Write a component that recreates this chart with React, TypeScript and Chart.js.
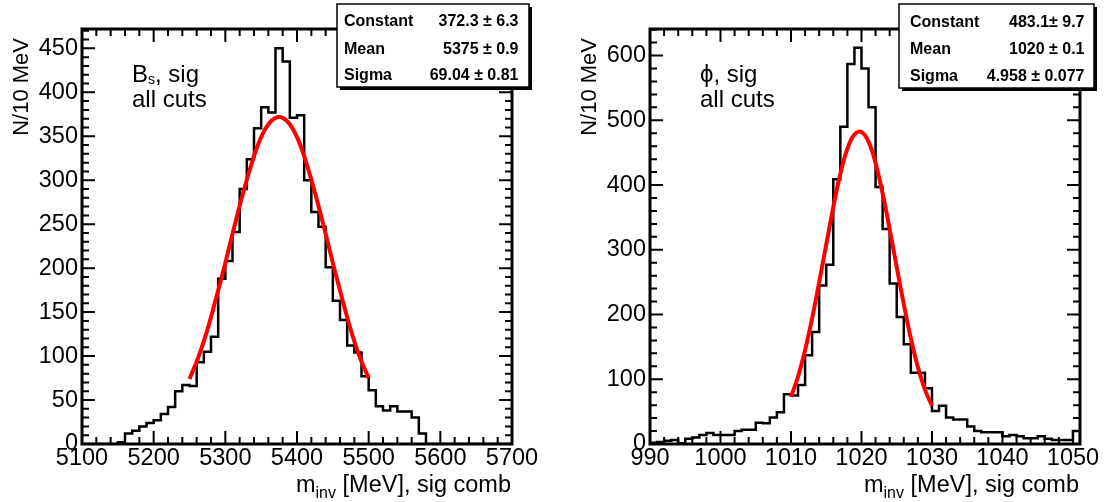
import React, { useEffect, useRef } from "react";
import { Chart, registerables } from "chart.js";

Chart.register(...registerables);

const FONT = '"Liberation Sans", Arial, Helvetica, "DejaVu Sans", sans-serif';

// ---------- B_s panel data ----------
const bsBinLow = 5100;
const bsBinWidth = 10;
const bsCounts = [
  0, 0, 0, 0, 0, 2, 12, 15, 20, 24,
  27, 34, 42, 60, 67, 66, 93, 105, 122, 188,
  208, 241, 290, 324, 359, 383, 377, 450, 435, 371,
  374, 300, 264, 247, 201, 163, 141, 112, 104, 77,
  61, 43, 38, 43, 37, 37, 30, 12, 0, 0,
  0, 0, 0, 0, 0, 0, 0, 0, 0, 0,
];
const bsFitX = [
  5250, 5262.5, 5275, 5287.5, 5300, 5312.5, 5325, 5337.5, 5350, 5362.5, 5375,
  5387.5, 5400, 5412.5, 5425, 5437.5, 5450, 5462.5, 5475, 5487.5, 5500,
];
const bsFitY = [
  74, 99, 130, 167, 206, 247, 286, 321, 349, 366, 372,
  366, 349, 321, 286, 247, 206, 167, 130, 99, 75,
];
const bsXTicks = [5100, 5200, 5300, 5400, 5500, 5600, 5700];
const bsYTicks = [0, 50, 100, 150, 200, 250, 300, 350, 400, 450];
const bsStatLabels = ["Constant", "Mean", "Sigma"];
const bsStatValues = ["372.3 \u00b1 6.3", "5375 \u00b1 0.9", "69.04 \u00b1 0.81"];

// ---------- phi panel data ----------
const phiBinLow = 990;
const phiBinWidth = 1;
const phiCounts = [
  2, 3, 5, 6, 1, 8, 10, 14, 17, 14,
  14, 14, 20, 22, 22, 33, 32, 41, 49, 77,
  75, 91, 137, 173, 245, 277, 409, 490, 587, 612,
  580, 520, 397, 332, 248, 196, 154, 110, 110, 86,
  51, 59, 41, 38, 38, 27, 20, 18, 18, 18,
  12, 14, 12, 9, 9, 12, 8, 6, 6, 6,
  20,
];
const phiFitX = [
  1010, 1011, 1012, 1013, 1014, 1015, 1016, 1017, 1018, 1019, 1020,
  1021, 1022, 1023, 1024, 1025, 1026, 1027, 1028, 1029, 1030,
];
const phiFitY = [
  73, 104, 145, 194, 250, 308, 366, 417, 456, 478, 482,
  467, 434, 387, 332, 273, 216, 163, 119, 84, 59,
];
const phiXTicks = [990, 1000, 1010, 1020, 1030, 1040, 1050];
const phiYTicks = [0, 100, 200, 300, 400, 500, 600];
const phiStatLabels = ["Constant", "Mean", "Sigma"];
const phiStatValues = ["483.1\u00b1 9.7", "1020 \u00b1 0.1", "4.958 \u00b1 0.077"];

type Part = { t: string; sub?: boolean };

type PanelDef = {
  canvasLeft: number;
  canvasWidth: number;
  padRight: number;
  binLow: number;
  binWidth: number;
  counts: number[];
  fitX: number[];
  fitY: number[];
  xMin: number;
  xMax: number;
  yMax: number;
  xTicks: number[];
  yTicks: number[];
  xMinor: number;
  yMinor: number;
  statLabels: string[];
  statValues: string[];
  box: { x: number; y: number; w: number; h: number; labelX: number; valueX: number; baselines: number[] };
  line1: Part[];
};

const panels: PanelDef[] = [
  {
    canvasLeft: 0,
    canvasWidth: 555,
    padRight: 43,
    binLow: bsBinLow,
    binWidth: bsBinWidth,
    counts: bsCounts,
    fitX: bsFitX,
    fitY: bsFitY,
    xMin: 5100,
    xMax: 5700,
    yMax: 472,
    xTicks: bsXTicks,
    yTicks: bsYTicks,
    xMinor: 20,
    yMinor: 10,
    statLabels: bsStatLabels,
    statValues: bsStatValues,
    box: { x: 337, y: 4, w: 192, h: 83, labelX: 344, valueX: 518.5, baselines: [26, 53.5, 80] },
    line1: [{ t: "B" }, { t: "s", sub: true }, { t: ", sig" }],
  },
  {
    canvasLeft: 568,
    canvasWidth: 541,
    padRight: 29,
    binLow: phiBinLow,
    binWidth: phiBinWidth,
    counts: phiCounts,
    fitX: phiFitX,
    fitY: phiFitY,
    xMin: 990,
    xMax: 1051,
    yMax: 641,
    xTicks: phiXTicks,
    yTicks: phiYTicks,
    xMinor: 2,
    yMinor: 20,
    statLabels: phiStatLabels,
    statValues: phiStatValues,
    box: { x: 331, y: 4, w: 195, h: 84, labelX: 342, valueX: 516.5, baselines: [26.5, 54.3, 81] },
    line1: [{ t: "\u03d5, sig" }],
  },
];

function drawParts(
  ctx: CanvasRenderingContext2D,
  parts: Part[],
  x: number,
  y: number,
  size: number,
  subSize: number,
  subDrop: number,
  alignRight: boolean
) {
  const fontMain = `${size}px ${FONT}`;
  const fontSub = `${subSize}px ${FONT}`;
  const widths = parts.map((p) => {
    ctx.font = p.sub ? fontSub : fontMain;
    return ctx.measureText(p.t).width;
  });
  const total = widths.reduce((a, b) => a + b, 0);
  let cx = alignRight ? x - total : x;
  ctx.textAlign = "left";
  ctx.textBaseline = "alphabetic";
  parts.forEach((p, i) => {
    ctx.font = p.sub ? fontSub : fontMain;
    ctx.fillText(p.t, cx, p.sub ? y + subDrop : y);
    cx += widths[i];
  });
}

function HistPanel({ p }: { p: PanelDef }) {
  const ref = useRef<HTMLCanvasElement>(null);

  useEffect(() => {
    const canvas = ref.current;
    if (!canvas) return;
    const n = p.counts.length;
    const hiEdge = p.binLow + n * p.binWidth;
    const histPts = [
      { x: p.binLow, y: 0 },
      ...p.counts.map((c, i) => ({ x: p.binLow + i * p.binWidth, y: c })),
      { x: hiEdge, y: p.counts[n - 1] },
      { x: hiEdge, y: 0 },
    ];
    const fitPts = p.fitX.map((x, i) => ({ x, y: p.fitY[i] }));

    const rootPlugin = {
      id: "rootFrame",
      beforeDatasetsDraw(chart: any) {
        const { ctx, chartArea: a } = chart;
        const xs = chart.scales.x;
        const ys = chart.scales.y;
        ctx.save();
        ctx.strokeStyle = "#000";
        ctx.lineWidth = 2;
        ctx.beginPath();
        const nx = Math.floor((p.xMax - p.xMin) / p.xMinor + 1e-6);
        for (let i = 0; i <= nx; i++) {
          const px = xs.getPixelForValue(p.xMin + i * p.xMinor);
          const len = i % 5 === 0 ? 13 : 7;
          ctx.moveTo(px, a.bottom);
          ctx.lineTo(px, a.bottom - len);
          ctx.moveTo(px, a.top);
          ctx.lineTo(px, a.top + len);
        }
        const ny = Math.floor(p.yMax / p.yMinor + 1e-6);
        for (let i = 0; i <= ny; i++) {
          const py = ys.getPixelForValue(i * p.yMinor);
          const len = i % 5 === 0 ? 13 : 7;
          ctx.moveTo(a.left, py);
          ctx.lineTo(a.left + len, py);
          ctx.moveTo(a.right, py);
          ctx.lineTo(a.right - len, py);
        }
        ctx.stroke();
        ctx.lineWidth = 3;
        ctx.strokeRect(a.left, a.top, a.right - a.left, a.bottom - a.top);
        ctx.restore();
      },
      afterDraw(chart: any) {
        const { ctx, chartArea: a } = chart;
        ctx.save();
        ctx.fillStyle = "#000";
        // x-axis title
        drawParts(
          ctx,
          [{ t: "m" }, { t: "inv", sub: true }, { t: " [MeV], sig comb" }],
          a.right - 1,
          491.5,
          23.5,
          16,
          6,
          true
        );
        // y-axis title (rotated, aligned to top end)
        ctx.save();
        ctx.translate(28, 38);
        ctx.rotate(-Math.PI / 2);
        ctx.font = `22px ${FONT}`;
        ctx.textAlign = "right";
        ctx.textBaseline = "alphabetic";
        ctx.fillText("N/10 MeV", 0, 0);
        ctx.restore();
        // annotation
        drawParts(ctx, p.line1, 132, 82, 24, 14, 1.5, false);
        drawParts(ctx, [{ t: "all cuts" }], 132, 107, 24, 14, 0, false);
        // stat box
        const b = p.box;
        ctx.fillStyle = "#000";
        ctx.fillRect(b.x + 3, b.y + 3, b.w, b.h);
        ctx.fillStyle = "#fff";
        ctx.fillRect(b.x, b.y, b.w, b.h);
        ctx.strokeStyle = "#000";
        ctx.lineWidth = 1.5;
        ctx.strokeRect(b.x, b.y, b.w, b.h);
        ctx.fillStyle = "#000";
        ctx.font = `bold 16px ${FONT}`;
        ctx.textBaseline = "alphabetic";
        p.statLabels.forEach((lab, i) => {
          ctx.textAlign = "left";
          ctx.fillText(lab, b.labelX, b.baselines[i]);
          ctx.textAlign = "right";
          ctx.fillText(p.statValues[i], b.valueX, b.baselines[i]);
        });
        ctx.restore();
      },
    };

    const chart = new Chart(canvas, {
      type: "line",
      data: {
        datasets: [
          {
            data: fitPts,
            borderColor: "#ff0000",
            borderWidth: 4,
            pointRadius: 0,
            fill: false,
            tension: 0.4,
          },
          {
            data: histPts,
            borderColor: "#000000",
            borderWidth: 2.5,
            pointRadius: 0,
            fill: false,
            stepped: true,
            tension: 0,
            borderJoinStyle: "miter",
          },
        ],
      } as any,
      options: {
        responsive: false,
        animation: false,
        devicePixelRatio: 1,
        events: [],
        layout: { padding: { left: 0, right: p.padRight, top: 29, bottom: 0 } },
        plugins: {
          legend: { display: false },
          tooltip: { enabled: false },
          title: { display: false },
        },
        scales: {
          x: {
            type: "linear",
            min: p.xMin,
            max: p.xMax,
            afterBuildTicks: (s: any) => {
              s.ticks = p.xTicks.map((v) => ({ value: v }));
            },
            afterFit: (s: any) => {
              s.height = 58;
            },
            ticks: {
              font: { family: FONT, size: 23.5 },
              color: "#000",
              padding: 0,
              maxRotation: 0,
              autoSkip: false,
              callback: (v: any) => String(v),
            },
            grid: { display: false, drawTicks: false },
            border: { display: false },
          },
          y: {
            type: "linear",
            min: 0,
            max: p.yMax,
            afterBuildTicks: (s: any) => {
              s.ticks = p.yTicks.map((v) => ({ value: v }));
            },
            afterFit: (s: any) => {
              s.width = 82;
            },
            ticks: {
              font: { family: FONT, size: 23.5 },
              color: "#000",
              padding: 4,
              autoSkip: false,
              callback: (v: any) => String(v),
            },
            grid: { display: false, drawTicks: false },
            border: { display: false },
          },
        },
      } as any,
      plugins: [rootPlugin as any],
    });
    return () => chart.destroy();
  }, [p]);

  return (
    <canvas
      ref={ref}
      width={p.canvasWidth}
      height={502}
      style={{ position: "absolute", left: p.canvasLeft, top: 0, width: p.canvasWidth, height: 502 }}
    />
  );
}

export default function App() {
  return (
    <div style={{ position: "absolute", left: 0, top: 0, width: 1109, height: 502, background: "#fff", overflow: "hidden" }}>
      {panels.map((p, i) => (
        <HistPanel key={i} p={p} />
      ))}
    </div>
  );
}
